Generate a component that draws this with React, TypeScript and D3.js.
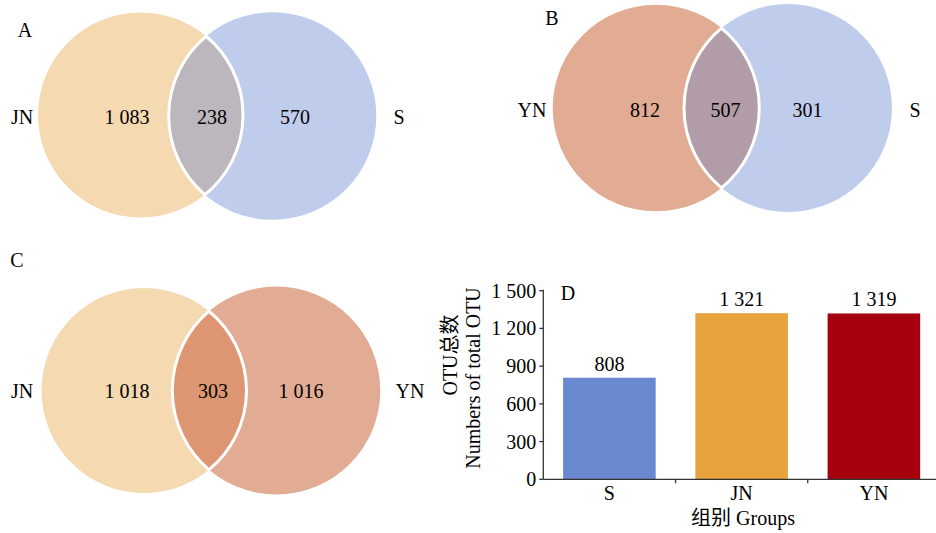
import React from "react";
import * as d3 from "d3";

// ---- Data ----
const panelLetters = ["A", "B", "C"];
const vennSetsA = ["JN", "S"];
const vennValuesA = [1083, 238, 570];
const vennSetsB = ["YN", "S"];
const vennValuesB = [812, 507, 301];
const vennSetsC = ["JN", "YN"];
const vennValuesC = [1018, 303, 1016];

const groups = ["S", "JN", "YN"];
const totals = [808, 1321, 1319];
const yTicks = [0, 300, 600, 900, 1200, 1500];

// ---- Styles / layout ----
const FONT = "'Liberation Serif', 'Times New Roman', 'Noto Sans CJK SC', serif";
const setColor: Record<string, string> = { JN: "#F5D9B0", S: "#C0CCEC", YN: "#E2AC94" };
const lensColors = ["#BCB6BD", "#B19CA8", "#DE9672"];
const barColors: Record<string, string> = { S: "#6A88D0", JN: "#E6A33E", YN: "#A6000F" };

const fmt = d3.formatLocale({ decimal: ".", thousands: " ", grouping: [3], currency: ["", ""] }).format(",");

type VennLayout = {
  c1: [number, number, number];
  c2: [number, number, number];
  letter: [number, number];
  labelL: number;
  labelR: number;
  textY: number;
  numX: [number, number, number];
};

const vennLayouts: VennLayout[] = [
  { c1: [140.5, 115, 102.5], c2: [272.5, 116, 103.8], letter: [25, 30], labelL: 22, labelR: 399, textY: 117, numX: [127, 212, 295] },
  { c1: [656, 108, 103.3], c2: [788, 108, 104], letter: [552, 18], labelL: 532, labelR: 915, textY: 110, numX: [645, 725.5, 807.5] },
  { c1: [144, 390.5, 102.5], c2: [276.3, 390.5, 104], letter: [17, 260], labelL: 22, labelR: 410, textY: 391, numX: [127, 213, 301] },
];

function lensPath(c1: [number, number, number], c2: [number, number, number]) {
  const [x1, y1, r1] = c1;
  const [x2, y2, r2] = c2;
  const dx = x2 - x1, dy = y2 - y1;
  const d = Math.hypot(dx, dy);
  const a = (r1 * r1 - r2 * r2 + d * d) / (2 * d);
  const h = Math.sqrt(Math.max(0, r1 * r1 - a * a));
  const mx = x1 + (a * dx) / d, my = y1 + (a * dy) / d;
  const p1: [number, number] = [mx + (h * dy) / d, my - (h * dx) / d];
  const p2: [number, number] = [mx - (h * dy) / d, my + (h * dx) / d];
  const ang = (cx: number, cy: number, p: [number, number]) => Math.atan2(p[1] - cy, p[0] - cx);
  const path = d3.path();
  // arc of circle 1 from p1 to p2 (the part inside circle 2)
  const a1s = ang(x1, y1, p1), a1e = ang(x1, y1, p2);
  const a2s = ang(x2, y2, p2), a2e = ang(x2, y2, p1);
  path.moveTo(p1[0], p1[1]);
  path.arc(x1, y1, r1, a1s, a1e, false);
  path.arc(x2, y2, r2, a2s, a2e, false);
  path.closePath();
  return path.toString();
}

function Venn({ idx, sets, values }: { idx: number; sets: string[]; values: number[] }) {
  const L = vennLayouts[idx];
  const fs = 20;
  return (
    <g>
      <circle cx={L.c1[0]} cy={L.c1[1]} r={L.c1[2]} fill={setColor[sets[0]]} />
      <circle cx={L.c2[0]} cy={L.c2[1]} r={L.c2[2]} fill={setColor[sets[1]]} />
      <path d={lensPath(L.c1, L.c2)} fill={lensColors[idx]} stroke="#fff" strokeWidth={3} />
      <text x={L.letter[0]} y={L.letter[1]} fontSize={fs} fontFamily={FONT} textAnchor="middle" dominantBaseline="central">
        {panelLetters[idx]}
      </text>
      <text x={L.labelL} y={L.textY} fontSize={fs} fontFamily={FONT} textAnchor="middle" dominantBaseline="central">
        {sets[0]}
      </text>
      <text x={L.labelR} y={L.textY} fontSize={fs} fontFamily={FONT} textAnchor="middle" dominantBaseline="central">
        {sets[1]}
      </text>
      {values.map((v, i) => (
        <text key={i} x={L.numX[i]} y={L.textY} fontSize={fs} fontFamily={FONT} textAnchor="middle" dominantBaseline="central">
          {fmt(v)}
        </text>
      ))}
    </g>
  );
}

function BarChart() {
  const x0 = 543.3, xEnd = 940;
  const x = d3.scaleBand<string>().domain(groups).range([x0, xEnd]).paddingInner(0.3).paddingOuter(0.15);
  const y = d3.scaleLinear().domain([0, 1500]).range([479.3, 290.7]);
  const fs = 20;
  const axisColor = "#333";
  const seps = groups.slice(1).map((g) => (x(g) as number) - (x.step() * x.paddingInner()) / 2);
  return (
    <g fontFamily={FONT}>
      {groups.map((g, i) => (
        <g key={g}>
          <rect x={x(g)} y={y(totals[i])} width={x.bandwidth()} height={y(0) - y(totals[i])} fill={barColors[g]} />
          <text x={(x(g) as number) + x.bandwidth() / 2} y={y(totals[i]) - 7} fontSize={fs} textAnchor="middle">
            {fmt(totals[i])}
          </text>
          <text x={(x(g) as number) + x.bandwidth() / 2} y={500} fontSize={fs} textAnchor="middle">
            {g}
          </text>
        </g>
      ))}
      <line x1={x0} x2={936} y1={y(0)} y2={y(0)} stroke={axisColor} strokeWidth={1.3} />
      <line x1={x0} x2={x0} y1={y(0)} y2={y(1500) - 1} stroke={axisColor} strokeWidth={1.3} />
      {seps.map((s, i) => (
        <line key={i} x1={s} x2={s} y1={y(0)} y2={y(0) + 4} stroke={axisColor} strokeWidth={1.3} />
      ))}
      {yTicks.map((t) => (
        <g key={t}>
          <line x1={x0 - 4} x2={x0} y1={y(t)} y2={y(t)} stroke={axisColor} strokeWidth={1.3} />
          <text x={x0 - 7} y={y(t)} fontSize={fs} textAnchor="end" dominantBaseline="central">
            {fmt(t)}
          </text>
        </g>
      ))}
      <text x={568} y={293} fontSize={fs} textAnchor="middle" dominantBaseline="central">D</text>
      <text x={743} y={525} fontSize={fs} textAnchor="middle">组别 Groups</text>
      <text transform="translate(450,355) rotate(-90)" fontSize={fs} textAnchor="middle" dominantBaseline="central">
        OTU总数
      </text>
      <text transform="translate(472.5,378) rotate(-90)" fontSize={fs} textAnchor="middle" dominantBaseline="central">
        Numbers of total OTU
      </text>
    </g>
  );
}

export default function App() {
  return (
    <svg width={936} height={533} style={{ position: "absolute", left: 0, top: 0, background: "#fff" }}>
      <rect width={936} height={533} fill="#fff" />
      <Venn idx={0} sets={vennSetsA} values={vennValuesA} />
      <Venn idx={1} sets={vennSetsB} values={vennValuesB} />
      <Venn idx={2} sets={vennSetsC} values={vennValuesC} />
      <BarChart />
    </svg>
  );
}
